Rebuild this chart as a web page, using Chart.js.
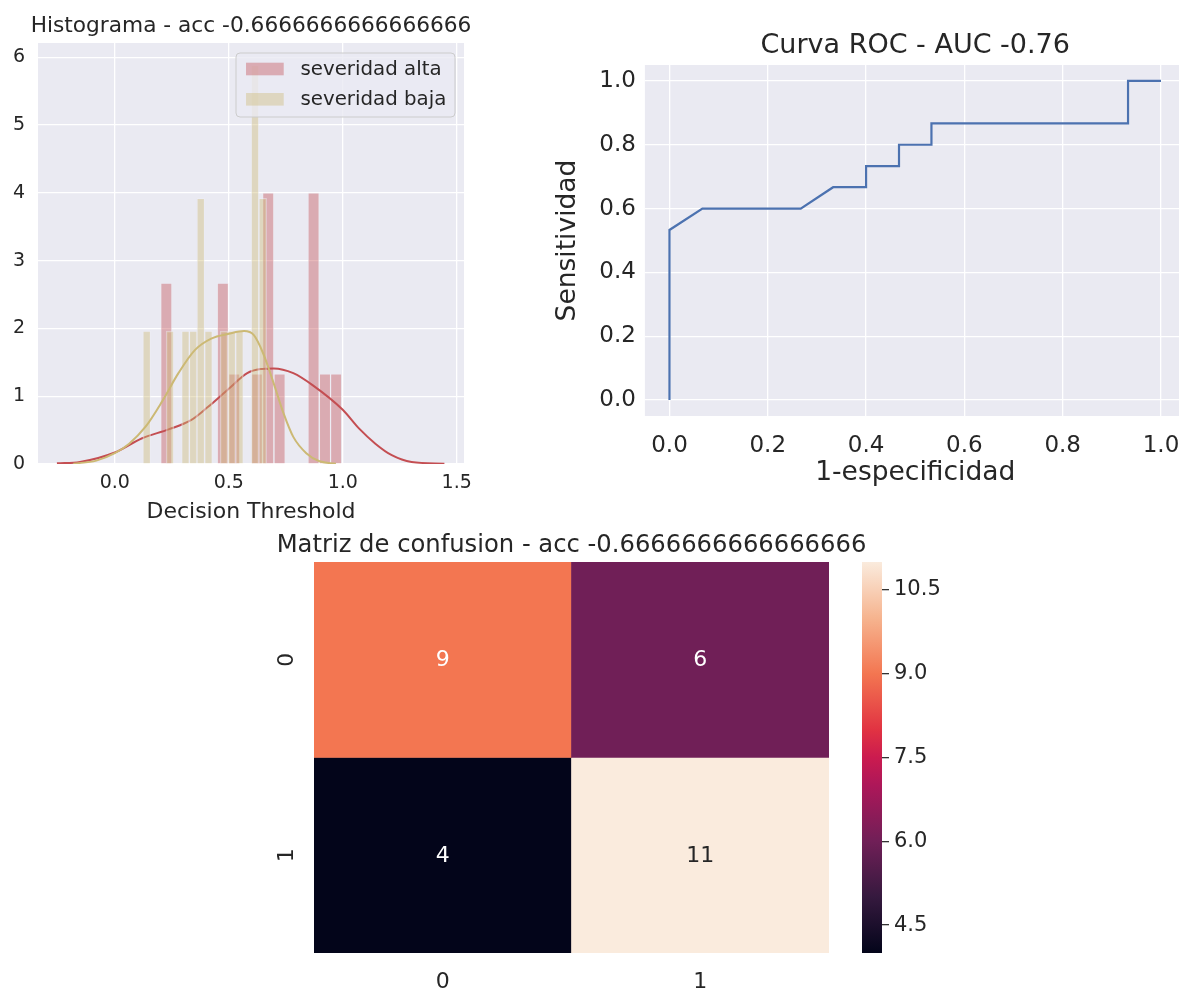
<!DOCTYPE html>
<html><head><meta charset="utf-8">
<script src="https://cdn.jsdelivr.net/npm/chart.js@4.4.1/dist/chart.umd.min.js"></script>
<style>
html,body{margin:0;padding:0;background:#fff;width:1179px;height:988px;overflow:hidden;position:relative}
.box{position:absolute}
canvas{display:block}
</style></head><body>
<div class="box" style="left:0;top:0;width:480px;height:530px"><canvas id="hist" width="480" height="530"></canvas></div>
<div class="box" style="left:540px;top:0;width:660px;height:500px"><canvas id="roc" width="660" height="500"></canvas></div>
<div class="box" style="left:250px;top:520px;width:660px;height:468px"><canvas id="cm" width="660" height="468"></canvas></div>
<div class="box" style="left:840px;top:520px;width:120px;height:468px"><canvas id="cb" width="120" height="468"></canvas></div>
<script>
// ---------------- DATA ----------------
const histTitle = 'Histograma - acc -0.6666666666666666';
const histXLabel = 'Decision Threshold';
const histXTicks = [0, 0.5, 1.0, 1.5];
const histXTickLabels = ['0.0', '0.5', '1.0', '1.5'];
const histYTicks = [0, 1, 2, 3, 4, 5, 6];
const histYTickLabels = ['0', '1', '2', '3', '4', '5', '6'];
const seriesNames = ['severidad alta', 'severidad baja'];

const altaBinWidth = 0.0497;
const altaBinCenters = [0.226, 0.276, 0.325, 0.375, 0.425, 0.474, 0.524, 0.574, 0.623, 0.673, 0.723, 0.772, 0.822, 0.872, 0.922, 0.971];
const altaDensity    = [2.67, 0, 0, 0, 0, 2.67, 1.33, 0, 1.33, 4.0, 1.33, 0, 0, 4.0, 1.33, 1.33];
const bajaBinWidth = 0.0339;
const bajaBinCenters = [0.140, 0.174, 0.208, 0.242, 0.276, 0.310, 0.344, 0.377, 0.411, 0.445, 0.479, 0.513, 0.547, 0.581, 0.615, 0.649];
const bajaDensity    = [1.96, 0, 0, 1.96, 0, 1.96, 1.96, 3.92, 1.96, 0, 1.96, 1.96, 1.96, 0, 5.88, 3.92];

const altaKdeX = [-0.254, -0.153, 0.0, 0.12, 0.236, 0.336, 0.408, 0.5, 0.581, 0.639, 0.697, 0.783, 0.869, 1.0, 1.071, 1.143, 1.215, 1.302, 1.446];
const altaKdeY = [0.01, 0.03, 0.17, 0.38, 0.51, 0.65, 0.84, 1.11, 1.34, 1.40, 1.41, 1.34, 1.16, 0.80, 0.525, 0.30, 0.13, 0.03, 0.005];
const bajaKdeX = [-0.182, -0.081, 0.0, 0.063, 0.135, 0.207, 0.279, 0.351, 0.423, 0.5, 0.567, 0.61, 0.651, 0.697, 0.74, 0.783, 0.84, 0.898, 0.97];
const bajaKdeY = [0.005, 0.05, 0.16, 0.30, 0.55, 0.92, 1.34, 1.68, 1.85, 1.92, 1.96, 1.90, 1.63, 1.19, 0.75, 0.40, 0.16, 0.04, 0.005];

const rocTitle = 'Curva ROC - AUC -0.76';
const rocXLabel = '1-especificidad';
const rocYLabel = 'Sensitividad';
const rocFpr = [0, 0, 0.067, 0.267, 0.333, 0.4, 0.4, 0.467, 0.467, 0.533, 0.533, 0.933, 0.933, 1.0];
const rocTpr = [0, 0.533, 0.6, 0.6, 0.667, 0.667, 0.733, 0.733, 0.8, 0.8, 0.867, 0.867, 1.0, 1.0];
const rocTicks = [0, 0.2, 0.4, 0.6, 0.8, 1.0];
const rocTickLabels = ['0.0', '0.2', '0.4', '0.6', '0.8', '1.0'];

const cmTitle = 'Matriz de confusion - acc -0.6666666666666666';
const cmRowLabels = ['0', '1'];
const cmColLabels = ['0', '1'];
const cmRow0 = [9, 6];
const cmRow1 = [4, 11];
const cbMin = 4, cbMax = 11;
const cbTicks = [4.5, 6.0, 7.5, 9.0, 10.5];
const cbTickLabels = ['4.5', '6.0', '7.5', '9.0', '10.5'];

// ---------------- STYLE ----------------
const FONT = "'DejaVu Sans', 'Noto Sans', sans-serif";
const TXT = '#262626';
const AXBG = '#EAEAF2';
Chart.defaults.font.family = FONT;
Chart.defaults.color = TXT;
Chart.defaults.animation = false;
Chart.defaults.plugins.legend.display = false;
Chart.defaults.plugins.tooltip.enabled = false;

const rocketStops = [[0, '#03051a'], [1/7, '#35193e'], [2/7, '#701f57'], [3/7, '#ad1759'], [0.5, '#cb1b4f'], [4/7, '#e13342'], [5/7, '#f37651'], [6/7, '#f6b48f'], [1, '#faebdd']];
function hex(h) { return [parseInt(h.substr(1,2),16), parseInt(h.substr(3,2),16), parseInt(h.substr(5,2),16)]; }
function rocket(t) {
  t = Math.max(0, Math.min(1, t));
  for (let i = 1; i < rocketStops.length; i++) {
    const [t1, c1] = rocketStops[i];
    const [t0, c0] = rocketStops[i-1];
    if (t <= t1) {
      const f = (t - t0) / (t1 - t0);
      const a = hex(c0), b = hex(c1);
      return 'rgb(' + a.map((v, k) => Math.round(v + (b[k] - v) * f)).join(',') + ')';
    }
  }
  return rocketStops[rocketStops.length-1][1];
}
function cellColor(v) { return rocket((v - cbMin) / (cbMax - cbMin)); }
function lum(rgbStr) {
  const m = rgbStr.match(/\d+/g).map(Number).map(c => { c /= 255; return c <= 0.03928 ? c / 12.92 : Math.pow((c + 0.055) / 1.055, 2.4); });
  return 0.2126*m[0] + 0.7152*m[1] + 0.0722*m[2];
}

const axesBg = {
  id: 'axesBg',
  beforeDraw(chart, args, opts) {
    if (!opts.color) return;
    const {ctx, chartArea: a} = chart;
    ctx.save(); ctx.fillStyle = opts.color;
    ctx.fillRect(a.left, a.top, a.right - a.left, a.bottom - a.top); ctx.restore();
  }
};
// title centred over the plot area (matplotlib style), drawn at its natural width
const plotTitle = {
  id: 'plotTitle',
  afterDraw(chart, args, o) {
    if (!o.text) return;
    const ctx = chart.ctx, a = chart.chartArea;
    ctx.save();
    ctx.font = o.size + 'px ' + FONT; ctx.fillStyle = TXT;
    ctx.textAlign = 'center'; ctx.textBaseline = 'middle';
    ctx.fillText(o.text, (a.left + a.right) / 2, a.top - o.gap);
    ctx.restore();
  }
};
function fixedTicks(values) { return (scale) => { scale.ticks = values.map(v => ({value: v})); }; }
function labelFrom(values, labels) { return (v) => { const i = values.findIndex(x => Math.abs(x - v) < 1e-9); return i >= 0 ? labels[i] : ''; }; }

// ---------------- HISTOGRAM ----------------
const histLegend = {
  id: 'histLegend',
  afterDatasetsDraw(chart) {
    const ctx = chart.ctx, a = chart.chartArea;
    const bars = seriesNames.map(n => chart.data.datasets.find(d => d.type === 'bar' && d.label === n));
    const w = 219, h = 64, x0 = a.right - 9 - w, y0 = a.top + 10;
    ctx.save();
    ctx.beginPath(); ctx.roundRect(x0, y0, w, h, 4);
    ctx.fillStyle = 'rgba(234,234,242,0.8)'; ctx.fill();
    ctx.lineWidth = 1; ctx.strokeStyle = '#cccccc'; ctx.stroke();
    ctx.font = '19.8px ' + FONT; ctx.textBaseline = 'middle'; ctx.textAlign = 'left';
    bars.forEach((d, i) => {
      const cy = y0 + 16 + i * 30.3;
      ctx.fillStyle = d.backgroundColor;
      ctx.fillRect(x0 + 10, cy - 6.3, 37.7, 12.6);
      ctx.fillStyle = TXT;
      ctx.fillText(d.label, x0 + 64.5, cy + 1);
    });
    ctx.restore();
  }
};
const hxMin = -0.337, hxMax = 1.532;
const histChart = new Chart(document.getElementById('hist'), {
  data: {
    datasets: [
      { type: 'line', label: 'kde baja', data: bajaKdeX.map((x, i) => ({x, y: bajaKdeY[i]})), borderColor: '#CCB974', borderWidth: 2, pointRadius: 0, cubicInterpolationMode: 'monotone', order: 0 },
      { type: 'bar', label: seriesNames[1], binWidth: bajaBinWidth, data: bajaBinCenters.map((x, i) => ({x, y: bajaDensity[i]})), backgroundColor: 'rgba(204,185,116,0.4)', borderColor: 'rgba(240,240,246,0.45)', borderWidth: 1, borderSkipped: 'bottom', barThickness: 7, grouped: false, order: 1 },
      { type: 'line', label: 'kde alta', data: altaKdeX.map((x, i) => ({x, y: altaKdeY[i]})), borderColor: '#C44E52', borderWidth: 2, pointRadius: 0, cubicInterpolationMode: 'monotone', order: 2 },
      { type: 'bar', label: seriesNames[0], binWidth: altaBinWidth, data: altaBinCenters.map((x, i) => ({x, y: altaDensity[i]})), backgroundColor: 'rgba(196,78,82,0.4)', borderColor: 'rgba(240,240,246,0.45)', borderWidth: 1, borderSkipped: 'bottom', barThickness: 11, grouped: false, order: 3 }
    ]
  },
  options: {
    responsive: false,
    layout: { padding: { left: 0, right: 10, top: 43, bottom: 0 } },
    plugins: {
      plotTitle: { text: histTitle, size: 21.7, gap: 16.5 },
      axesBg: { color: AXBG }
    },
    scales: {
      x: { type: 'linear', min: hxMin, max: hxMax, offset: false, afterBuildTicks: fixedTicks(histXTicks),
           afterFit: (s) => { s.height = 66; },
           ticks: { callback: labelFrom(histXTicks, histXTickLabels), font: { size: 19 }, color: TXT, padding: 8, maxRotation: 0, autoSkip: false },
           grid: { color: '#ffffff', lineWidth: 1.3, drawTicks: false, offset: false }, border: { display: false },
           title: { display: true, text: histXLabel, font: { size: 22 }, color: TXT, padding: { top: 0, bottom: 5 } } },
      y: { type: 'linear', min: 0, max: 6.21, afterBuildTicks: fixedTicks(histYTicks),
           afterFit: (s) => { s.width = 38; },
           ticks: { callback: labelFrom(histYTicks, histYTickLabels), font: { size: 19 }, color: TXT, padding: 13 },
           grid: { color: '#ffffff', lineWidth: 1.3, drawTicks: false }, border: { display: false } }
    }
  },
  plugins: [axesBg, histLegend, plotTitle]
});
// bar widths = bin widths, converted to pixels through the x scale
(function () {
  const sx = histChart.scales.x;
  histChart.data.datasets.forEach(d => {
    if (d.binWidth) d.barThickness = Math.abs(sx.getPixelForValue(d.binWidth) - sx.getPixelForValue(0));
  });
  histChart.update();
})();

// ---------------- ROC ----------------
new Chart(document.getElementById('roc'), {
  type: 'line',
  data: { datasets: [{ label: 'ROC', data: rocFpr.map((x, i) => ({x, y: rocTpr[i]})), borderColor: '#4C72B0', borderWidth: 2.2, pointRadius: 0, tension: 0 }] },
  options: {
    responsive: false,
    layout: { padding: { left: 0, right: 14.45, top: 65, bottom: 0 } },
    plugins: {
      plotTitle: { text: rocTitle, size: 27, gap: 19 },
      axesBg: { color: AXBG }
    },
    scales: {
      x: { type: 'linear', min: -0.05, max: 1.05, afterBuildTicks: fixedTicks(rocTicks),
           afterFit: (s) => { s.height = 84; },
           ticks: { callback: labelFrom(rocTicks, rocTickLabels), font: { size: 23 }, color: TXT, padding: 16, maxRotation: 0, autoSkip: false },
           grid: { color: '#ffffff', lineWidth: 1.3, drawTicks: false }, border: { display: false },
           title: { display: true, text: rocXLabel, font: { size: 26.5 }, color: TXT, padding: { top: 0, bottom: 11 } } },
      y: { type: 'linear', min: -0.05, max: 1.05, afterBuildTicks: fixedTicks(rocTicks),
           afterFit: (s) => { s.width = 104.9; },
           ticks: { callback: labelFrom(rocTicks, rocTickLabels), font: { size: 23 }, color: TXT, padding: 9 },
           grid: { color: '#ffffff', lineWidth: 1.3, drawTicks: false }, border: { display: false },
           title: { display: true, text: rocYLabel, font: { size: 26.5 }, color: TXT, padding: { top: 12, bottom: 0 } } }
    }
  },
  plugins: [axesBg, plotTitle]
});

// ---------------- CONFUSION MATRIX ----------------
const cmRows = [cmRow0, cmRow1];
const annot = {
  id: 'annot',
  afterDatasetsDraw(chart) {
    const ctx = chart.ctx;
    ctx.save();
    ctx.font = '22px ' + FONT; ctx.textAlign = 'center'; ctx.textBaseline = 'middle';
    chart.data.datasets.forEach((ds, di) => {
      chart.getDatasetMeta(di).data.forEach((el, i) => {
        const v = ds.values[i];
        const p = el.getCenterPoint();
        ctx.fillStyle = lum(cellColor(v)) > 0.408 ? TXT : '#ffffff';
        ctx.fillText(String(v), p.x, p.y + 1);
      });
    });
    ctx.restore();
  }
};
new Chart(document.getElementById('cm'), {
  type: 'bar',
  data: {
    labels: cmColLabels,
    datasets: cmRows.map((row, r) => ({
      label: 'row ' + cmRowLabels[r],
      values: row,
      data: row.map(() => [cmRows.length - 1 - r, cmRows.length - r]),
      backgroundColor: row.map(cellColor),
      borderWidth: 0, barPercentage: 1, categoryPercentage: 1, grouped: false
    }))
  },
  options: {
    responsive: false,
    layout: { padding: { left: 0, right: 81, top: 42, bottom: 0 } },
    plugins: {
      plotTitle: { text: cmTitle, size: 24.25, gap: 16 }
    },
    scales: {
      x: { type: 'category', afterFit: (s) => { s.height = 35; },
           ticks: { font: { size: 22 }, color: TXT, padding: 8, maxRotation: 0 },
           grid: { display: false }, border: { display: false } },
      y: { type: 'linear', min: 0, max: cmRows.length, afterBuildTicks: fixedTicks([1.5, 0.5]),
           afterFit: (s) => { s.width = 64; },
           ticks: { callback: (v) => cmRowLabels[cmRows.length - 1 - Math.floor(v)], font: { size: 22 }, color: TXT, padding: 12, minRotation: 90, maxRotation: 90, crossAlign: 'center' },
           grid: { display: false }, border: { display: false } }
    }
  },
  plugins: [annot, plotTitle]
});

// ---------------- COLORBAR ----------------
new Chart(document.getElementById('cb'), {
  type: 'bar',
  data: {
    labels: ['cb'],
    datasets: [{
      data: [[cbMin, cbMax]],
      backgroundColor: (c) => {
        const chart = c.chart; const a = chart.chartArea;
        if (!a) return '#cb1b4f';
        const ys = chart.scales.y;
        const g = chart.ctx.createLinearGradient(0, ys.getPixelForValue(cbMin), 0, ys.getPixelForValue(cbMax));
        rocketStops.forEach(([t, col]) => g.addColorStop(t, col));
        return g;
      },
      borderWidth: 0, barPercentage: 1, categoryPercentage: 1
    }]
  },
  options: {
    responsive: false,
    layout: { padding: { left: 22, right: 0, top: 42, bottom: 35 } },
    scales: {
      x: { display: false },
      y: { type: 'linear', position: 'right', min: cbMin, max: cbMax, afterBuildTicks: fixedTicks(cbTicks),
           afterFit: (s) => { s.width = 78; },
           ticks: { callback: labelFrom(cbTicks, cbTickLabels), font: { size: 21 }, color: TXT, padding: 5 },
           grid: { drawOnChartArea: false, drawTicks: true, tickLength: 7, color: '#333333', lineWidth: 1.3 },
           border: { display: false } }
    }
  }
});
</script>
</body></html>
